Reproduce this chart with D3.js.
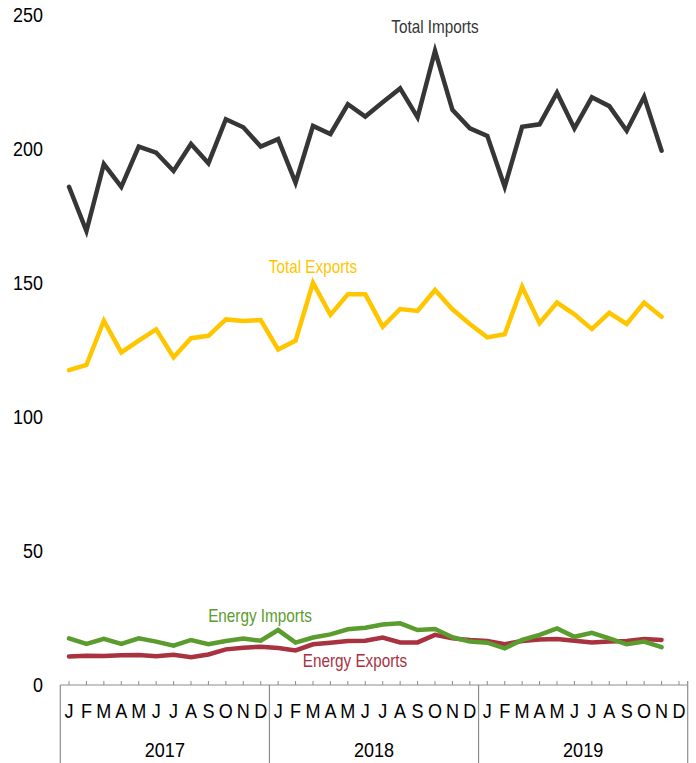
<!DOCTYPE html>
<html>
<head>
<meta charset="utf-8">
<script src="https://cdn.jsdelivr.net/npm/d3@7"></script>
<style>
  html, body { margin: 0; padding: 0; background: #fff; }
  svg { display: block; font-family: "Liberation Sans", Arial, sans-serif; }
</style>
</head>
<body>
<svg id="chart" width="696" height="763"></svg>
<script>
  // month letters and years for the two-level x axis
  const MONTHS = ["J", "F", "M", "A", "M", "J", "J", "A", "S", "O", "N", "D"];
  const YEARS = ["2017", "2018", "2019"];
  const Y_TICKS = [0, 50, 100, 150, 200, 250];

  // Jan 2017 .. Nov 2019 (35 months)
  const totalImports = [
    185.9, 169.4, 194.4, 185.9, 200.9, 198.6, 191.8, 201.9, 194.7, 211.1, 208.1, 200.9,
    203.7, 187.4, 208.6, 205.6, 216.7, 212.1, 217.4, 222.6, 211.8, 236.6, 214.6, 207.7,
    204.9, 185.9, 208.3, 209.2, 221.0, 207.7, 219.3, 216.0, 206.8, 219.5, 199.4
  ];
  const totalExports = [
    117.5, 119.4, 135.9, 124.1, 128.5, 132.7, 122.3, 129.4, 130.3, 136.4, 135.8, 136.2,
    125.2, 128.5, 150.1, 138.1, 145.8, 145.8, 133.7, 140.3, 139.6, 147.4, 140.2, 134.7,
    129.7, 130.9, 148.6, 135.0, 142.7, 138.3, 132.8, 138.9, 134.7, 142.7, 137.4
  ];
  const energyImports = [
    17.4, 15.3, 17.2, 15.3, 17.4, 16.2, 14.7, 16.8, 15.2, 16.4, 17.3, 16.5,
    20.5, 15.8, 17.7, 18.9, 20.8, 21.4, 22.6, 23.0, 20.5, 20.9, 17.8, 16.2,
    15.8, 13.7, 16.8, 18.7, 21.1, 18.0, 19.5, 17.4, 15.2, 16.2, 14.1
  ];
  const energyExports = [
    10.6, 10.9, 10.8, 11.1, 11.2, 10.7, 11.3, 10.4, 11.4, 13.3, 13.9, 14.3,
    13.8, 12.9, 15.2, 15.8, 16.4, 16.5, 17.7, 15.9, 15.9, 18.7, 17.4, 16.8,
    16.4, 15.2, 16.4, 17.0, 17.2, 16.5, 15.9, 16.2, 16.4, 17.2, 16.8
  ];

  (function () {
    const SERIES = [
      { name: "Total Imports", values: totalImports, color: "#363636", lx: 435, ly: 27 },
      { name: "Total Exports", values: totalExports, color: "#FFC600", lx: 313, ly: 267 },
      { name: "Energy Exports", values: energyExports, color: "#A8323F", lx: 355, ly: 661 },
      { name: "Energy Imports", values: energyImports, color: "#5B9C2E", lx: 260, ly: 616 }
    ];

    const svg = d3.select("#chart");

    const plotLeft = 60.3;
    const plotRight = 687.7;
    const axisY = 685;
    const plotTop = 15;

    const keys = [];
    YEARS.forEach((yr) => MONTHS.forEach((m, i) => keys.push(yr + "-" + i)));

    const x = d3.scaleBand().domain(keys).range([plotLeft, plotRight]);
    const cx = (k) => x(k) + x.bandwidth() / 2;
    const y = d3.scaleLinear().domain([0, 250]).range([axisY, plotTop]);

    function squeezedText(g, tx, ty, str, size, sx, color, anchor) {
      return g.append("text")
        .attr("transform", "translate(" + tx + "," + ty + ") scale(" + sx + ",1)")
        .attr("text-anchor", anchor || "middle")
        .attr("dy", "0.35em")
        .attr("font-size", size)
        .attr("fill", color || "#000")
        .text(str);
    }

    // y labels
    const yg = svg.append("g");
    Y_TICKS.forEach((t) => {
      squeezedText(yg, 43, y(t), String(t), 19.5, 0.92, "#000", "end");
    });

    // x axis
    const ax = svg.append("g");
    ax.append("line")
      .attr("x1", plotLeft).attr("x2", plotRight)
      .attr("y1", axisY).attr("y2", axisY)
      .attr("stroke", "#8c8c8c").attr("stroke-width", 1.2);

    ax.selectAll(".tick")
      .data(keys)
      .join("line")
      .attr("class", "tick")
      .attr("x1", cx).attr("x2", cx)
      .attr("y1", axisY).attr("y2", axisY - 4)
      .attr("stroke", "#8c8c8c").attr("stroke-width", 1);

    const bounds = YEARS.map((yr) => x(yr + "-0")).concat([plotRight]);
    ax.selectAll(".sep")
      .data(bounds)
      .join("line")
      .attr("class", "sep")
      .attr("x1", (d) => d).attr("x2", (d) => d)
      .attr("y1", (d, i) => (i === bounds.length - 1 ? axisY - 4 : axisY))
      .attr("y2", 763)
      .attr("stroke", "#8c8c8c").attr("stroke-width", 1.2);

    keys.forEach((k) => {
      const m = +k.split("-")[1];
      squeezedText(ax, cx(k), 711, MONTHS[m], 21, 0.86, "#000");
    });

    YEARS.forEach((yr) => {
      const mid = (x(yr + "-0") + x(yr + "-11") + x.bandwidth()) / 2;
      squeezedText(ax, mid, 750, yr, 21, 0.86, "#000");
    });

    // lines
    const line = d3.line()
      .x((d, i) => cx(keys[i]))
      .y((d) => y(d));

    const lg = svg.append("g");
    SERIES.forEach((s) => {
      lg.append("path")
        .datum(s.values)
        .attr("fill", "none")
        .attr("stroke", s.color)
        .attr("stroke-width", 4.5)
        .attr("stroke-linejoin", "miter")
        .attr("stroke-linecap", "round")
        .attr("d", line);
    });

    // series labels
    SERIES.forEach((s) => {
      squeezedText(lg, s.lx, s.ly, s.name, 18, 0.85, s.color);
    });
  })();
</script>
</body>
</html>
